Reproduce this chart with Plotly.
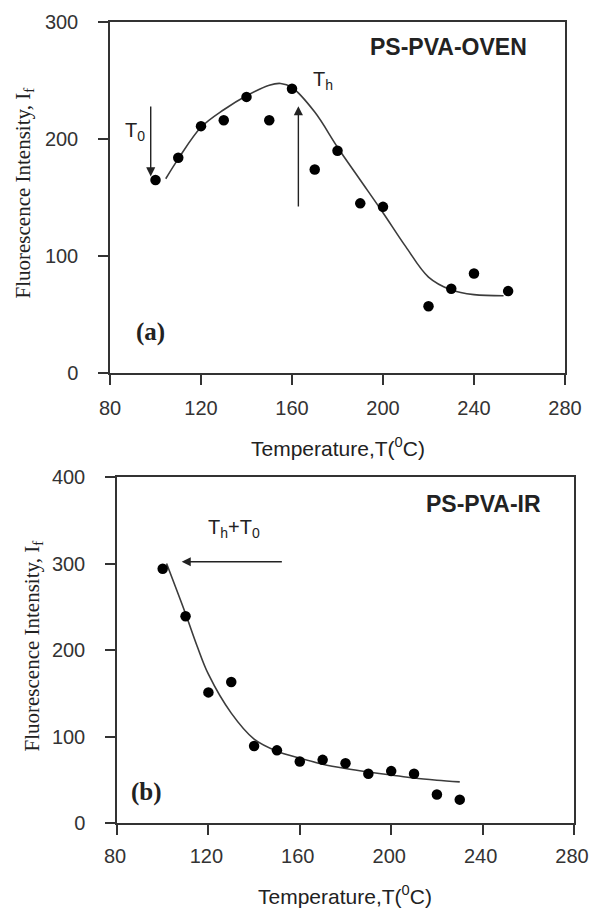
import plotly.graph_objects as go

# ---- Panel (a): PS-PVA-OVEN ----
temp_a = [100, 110, 120, 130, 140, 150, 160, 170, 180, 190, 200, 220, 230, 240, 255]
if_a = [165, 184, 211, 216, 236, 216, 243, 174, 190, 145, 142, 57, 72, 85, 70]
fit_a_x = [104.5, 110, 120, 130, 140, 150, 155, 160, 170, 180, 190, 200, 210, 220, 230, 240, 253]
fit_a_y = [166, 183, 210, 225, 237, 246, 247.5, 244, 223, 193, 165, 137, 108, 82, 71, 67, 66]

# ---- Panel (b): PS-PVA-IR ----
temp_b = [100, 110, 120, 130, 140, 150, 160, 170, 180, 190, 200, 210, 220, 230]
if_b = [294, 239, 151, 163, 89, 84, 71, 73, 69, 57, 60, 57, 33, 27]
fit_b_x = [101.7, 110, 115, 120, 130, 140, 150, 160, 170, 180, 190, 200, 210, 220, 230]
fit_b_y = [300, 242, 205, 172, 127, 97, 83, 75, 68, 63, 59, 55.5, 52, 49.5, 47.5]

x_ticks = [80, 120, 160, 200, 240, 280]
y_ticks_a = [0, 100, 200, 300]
y_ticks_b = [0, 100, 200, 300, 400]

W, H = 590, 908
AX = "#333333"
TXT = "#222222"

fig = go.Figure()
fig.add_trace(go.Scatter(x=fit_a_x, y=fit_a_y, mode="lines", line=dict(color="#3c3c3c", width=1.6, shape="spline", smoothing=1.0),
                         xaxis="x", yaxis="y", showlegend=False, hoverinfo="skip"))
fig.add_trace(go.Scatter(x=temp_a, y=if_a, mode="markers", marker=dict(color="black", size=10.5),
                         xaxis="x", yaxis="y", showlegend=False))
fig.add_trace(go.Scatter(x=fit_b_x, y=fit_b_y, mode="lines", line=dict(color="#3c3c3c", width=1.6, shape="spline", smoothing=1.0),
                         xaxis="x2", yaxis="y2", showlegend=False, hoverinfo="skip"))
fig.add_trace(go.Scatter(x=temp_b, y=if_b, mode="markers", marker=dict(color="black", size=10.5),
                         xaxis="x2", yaxis="y2", showlegend=False))

def axis_common():
    return dict(showline=True, linecolor=AX, linewidth=1.5, mirror=True, showgrid=False, zeroline=False,
                ticks="outside", ticklen=10, tickwidth=1.5, tickcolor=AX, automargin=False,
                ticklabeloverflow="allow",
                tickfont=dict(family="Arial", size=20, color="#333333"))

xa = axis_common(); xa.update(range=[80, 280], tickvals=x_ticks, domain=[110 / W, 565 / W], anchor="y", ticklabelstandoff=6)
ya = axis_common(); ya.update(range=[0, 300], tickvals=y_ticks_a, domain=[1 - 373 / H, 1 - 22 / H], anchor="x", ticklabelstandoff=16)
xb = axis_common(); xb.update(range=[80, 280], tickvals=x_ticks, domain=[117 / W, 574 / W], anchor="y2", ticklabelstandoff=4, ticklabelshift=-2)
yb = axis_common(); yb.update(range=[0, 400], tickvals=y_ticks_b, domain=[1 - 823 / H, 1 - 477 / H], anchor="x2", ticklabelstandoff=16)

annotations = []
def txt(x, y, s, xref, yref, size, family="Arial", **kw):
    d = dict(x=x, y=y, text=s, xref=xref, yref=yref, showarrow=False,
             font=dict(family=family, size=size, color=TXT), xanchor="center", yanchor="middle")
    d.update(kw)
    annotations.append(d)

def arrow(x, y, ax, ay, xref, yref):
    annotations.append(dict(x=x, y=y, ax=ax, ay=ay, xref=xref, yref=yref, axref=xref, ayref=yref,
                            text="", showarrow=True, arrowhead=2, arrowsize=1.3, arrowwidth=1.4,
                            arrowcolor="#222222", standoff=0, startstandoff=0))

# Panel (a) texts
txt(229, 278.6, "<b>PS-PVA-OVEN</b>", "x", "y", 23)
txt(98, 35.3, "<b>(a)</b>", "x", "y", 25, family="Liberation Serif")
txt(91, 206, "T<sub>0</sub>", "x", "y", 20)
txt(173.6, 249.6, "T<sub>h</sub>", "x", "y", 20)
arrow(97.9, 168, 97.9, 229, "x", "y")
arrow(162.8, 228, 162.8, 141, "x", "y")

# Panel (b) texts
txt(240.2, 369, "<b>PS-PVA-IR</b>", "x2", "y2", 23)
txt(93.1, 36, "<b>(b)</b>", "x2", "y2", 25, family="Liberation Serif")
txt(131.2, 341, "T<sub>h</sub>+T<sub>0</sub>", "x2", "y2", 20)
arrow(108.3, 302, 152.8, 302, "x2", "y2")

# Axis titles
txt(23 / W, 1 - 193.5 / H, "Fluorescence Intensity, I<sub>f</sub>", "paper", "paper", 21, family="Liberation Serif", textangle=-90)
txt(32 / W, 1 - 646.5 / H, "Fluorescence Intensity, I<sub>f</sub>", "paper", "paper", 21, family="Liberation Serif", textangle=-90)
txt(338 / W, 1 - 447 / H, "Temperature,T(<sup>0</sup>C)", "paper", "paper", 21)
txt(345 / W, 1 - 895 / H, "Temperature,T(<sup>0</sup>C)", "paper", "paper", 21)

fig.update_layout(width=W, height=H, margin=dict(l=0, r=0, t=0, b=0, autoexpand=False),
                  paper_bgcolor="white", plot_bgcolor="white",
                  xaxis=xa, yaxis=ya, xaxis2=xb, yaxis2=yb,
                  annotations=annotations, showlegend=False)

fig.write_html("out.html", config={"displayModeBar": False},
               post_script="document.documentElement.style.margin='0';document.body.style.margin='0';document.body.style.overflow='hidden';")
